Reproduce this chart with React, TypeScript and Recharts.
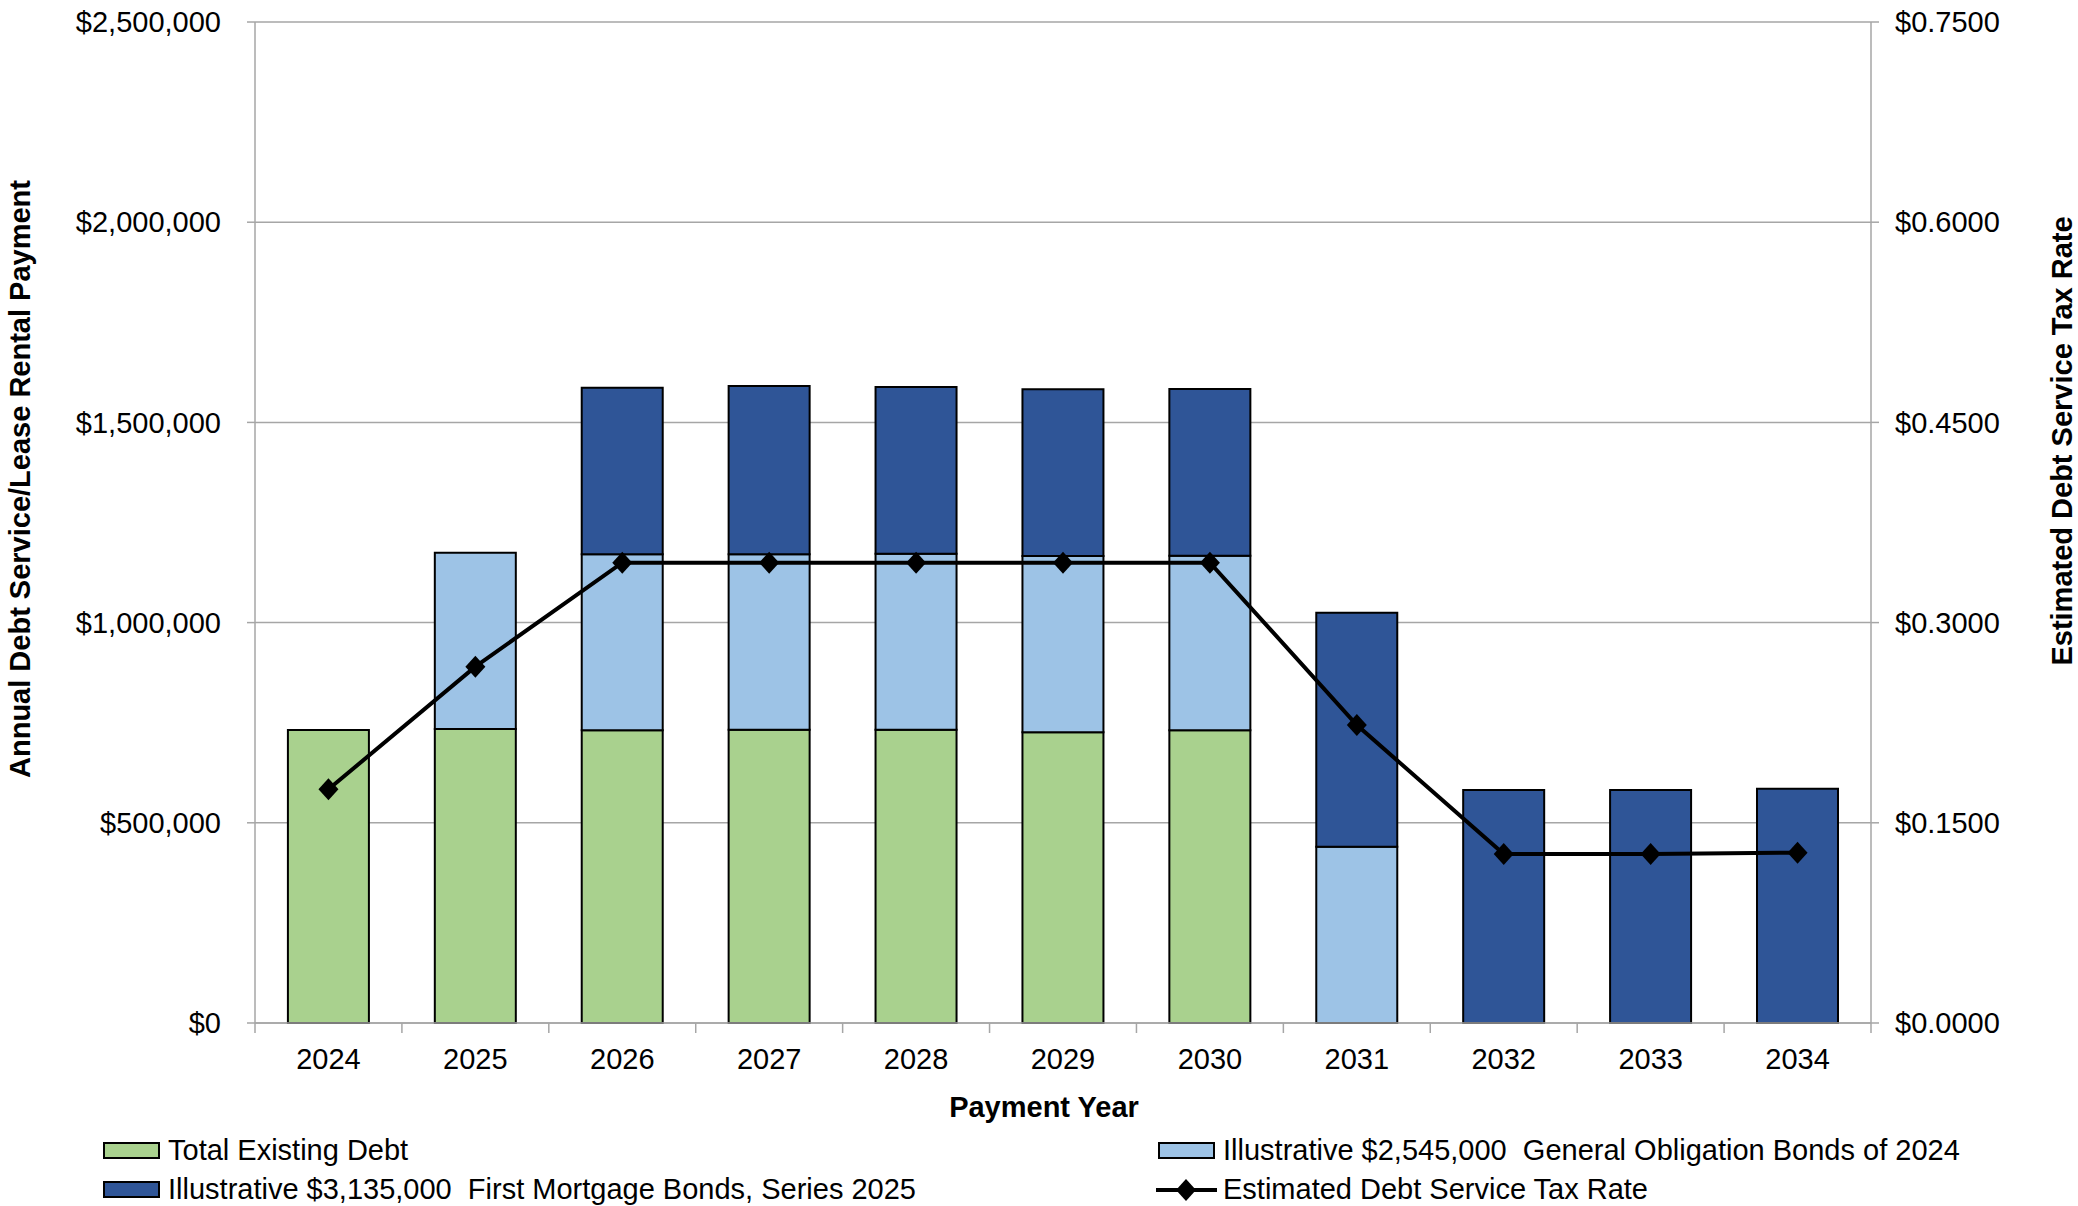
import React from 'react'
import {
  ComposedChart, Bar, Line, XAxis, YAxis, CartesianGrid,
} from 'recharts'

// ── Data ──────────────────────────────────────────────────────────────────────
const years = ['2024', '2025', '2026', '2027', '2028', '2029', '2030', '2031', '2032', '2033', '2034']
const existingDebt = [732000, 734000, 731000, 732500, 732500, 726000, 731000, 0, 0, 0, 0]
const goBonds = [0, 440600, 439500, 438500, 439500, 440300, 436100, 440300, 0, 0, 0]
const fmBonds = [0, 0, 416200, 420000, 416400, 416300, 416300, 584400, 581900, 581900, 585200]
const taxRate = [0.1751, 0.267, 0.3449, 0.3449, 0.3449, 0.3449, 0.3449, 0.2233, 0.1266, 0.1266, 0.1276]

const leftTicks = [0, 500000, 1000000, 1500000, 2000000, 2500000]
const rightTicks = [0, 0.15, 0.3, 0.45, 0.6, 0.75]

const data = years.map((year, i) => ({
  year,
  existing: existingDebt[i],
  go: goBonds[i],
  fmb: fmBonds[i],
  rate: taxRate[i],
}))

// ── Theme ─────────────────────────────────────────────────────────────────────
const C = {
  green: '#A9D18E',
  light: '#9DC3E6',
  navy: '#2F5597',
  grid: '#A6A6A6',
  ink: '#000000',
}
const FONT = '"Liberation Sans", Arial, sans-serif'
const FS = 29

const W = 2078
const H = 1206
const LEFT_W = 255
const RIGHT_W = 207
const PLOT_W = W - LEFT_W - RIGHT_W
const X_TICK_SIZE = 10
const X_TICK_MARGIN = 15

const money = (v: number) => '$' + v.toLocaleString('en-US')
const rateFmt = (v: number) => '$' + v.toFixed(4)

// ── Diamond marker ────────────────────────────────────────────────────────────
function Diamond(props: any) {
  const { cx, cy } = props
  if (cx == null || cy == null) return null
  return (
    <polygon
      points={`${cx},${cy - 11} ${cx + 10},${cy} ${cx},${cy + 11} ${cx - 10},${cy}`}
      fill={C.ink}
    />
  )
}

// ── X tick: label centred, tick marks at category boundaries ──────────────────
function YearTick(props: any) {
  const { x, y, payload, index } = props
  const band = PLOT_W / years.length
  const y0 = y - X_TICK_SIZE - X_TICK_MARGIN
  return (
    <g>
      <line x1={x - band / 2} x2={x - band / 2} y1={y0} y2={y0 + X_TICK_SIZE} stroke={C.grid} strokeWidth={1.5} />
      {index === years.length - 1 && (
        <line x1={x + band / 2} x2={x + band / 2} y1={y0} y2={y0 + X_TICK_SIZE} stroke={C.grid} strokeWidth={1.5} />
      )}
      <text x={x} y={y} dy="0.71em" textAnchor="middle" fontSize={FS} fontFamily={FONT} fill={C.ink}>
        {payload.value}
      </text>
    </g>
  )
}

function Swatch({ color }: { color: string }) {
  return (
    <span style={{
      display: 'inline-block', width: 53, height: 13, background: color,
      border: '2px solid #000', marginRight: 8,
    }} />
  )
}

function LineIcon() {
  return (
    <svg width={61} height={24} style={{ marginRight: 6 }}>
      <line x1={0} x2={61} y1={12} y2={12} stroke="#000" strokeWidth={4} />
      <polygon points="30,1 40,12 30,23 20,12" fill="#000" />
    </svg>
  )
}

const legendRow: React.CSSProperties = {
  position: 'absolute', display: 'flex', alignItems: 'center',
  fontSize: FS, fontFamily: FONT, whiteSpace: 'pre', lineHeight: 1, color: '#000',
}

export default function App() {
  return (
    <div style={{ position: 'absolute', left: 0, top: 0, width: W, height: H, background: '#fff', fontFamily: FONT }}>
      <ComposedChart
        width={W}
        height={H}
        data={data}
        margin={{ top: 22, right: 0, bottom: 123, left: 0 }}
        barCategoryGap="22.4%"
      >
        <CartesianGrid vertical={false} stroke={C.grid} strokeWidth={1.5} yAxisId="left" />
        <XAxis
          dataKey="year"
          height={60}
          tickSize={X_TICK_SIZE}
          tickMargin={X_TICK_MARGIN}
          tickLine={false}
          axisLine={{ stroke: C.grid, strokeWidth: 1.5 }}
          tick={<YearTick />}
          interval={0}
          label={{
            content: () => (
              <text x={1044} y={1107} textAnchor="middle" dominantBaseline="central"
                fontSize={FS} fontWeight={700} fontFamily={FONT} fill={C.ink}>
                Payment Year
              </text>
            ),
          }}
        />
        <YAxis
          yAxisId="left"
          width={LEFT_W}
          domain={[0, 2500000]}
          ticks={leftTicks}
          tickFormatter={money}
          tickSize={8}
          tickMargin={26}
          tick={{ fontSize: FS, fill: C.ink, fontFamily: FONT }}
          tickLine={{ stroke: C.grid, strokeWidth: 1.5 }}
          axisLine={{ stroke: C.grid, strokeWidth: 1.5 }}
          label={{
            content: () => (
              <text x={20} y={479} transform="rotate(-90 20 479)" textAnchor="middle" dominantBaseline="central"
                fontSize={FS} fontWeight={700} fontFamily={FONT} fill={C.ink}>
                Annual Debt Service/Lease Rental Payment
              </text>
            ),
          }}
        />
        <YAxis
          yAxisId="right"
          orientation="right"
          width={RIGHT_W}
          domain={[0, 0.75]}
          ticks={rightTicks}
          tickFormatter={rateFmt}
          tickSize={8}
          tickMargin={16}
          tick={{ fontSize: FS, fill: C.ink, fontFamily: FONT }}
          tickLine={{ stroke: C.grid, strokeWidth: 1.5 }}
          axisLine={{ stroke: C.grid, strokeWidth: 1.5 }}
          label={{
            content: () => (
              <text x={2062} y={441} transform="rotate(-90 2062 441)" textAnchor="middle" dominantBaseline="central"
                fontSize={FS} fontWeight={700} fontFamily={FONT} fill={C.ink}>
                Estimated Debt Service Tax Rate
              </text>
            ),
          }}
        />
        <Bar yAxisId="left" dataKey="existing" stackId="a" fill={C.green} stroke={C.ink} strokeWidth={2} isAnimationActive={false} />
        <Bar yAxisId="left" dataKey="go" stackId="a" fill={C.light} stroke={C.ink} strokeWidth={2} isAnimationActive={false} />
        <Bar yAxisId="left" dataKey="fmb" stackId="a" fill={C.navy} stroke={C.ink} strokeWidth={2} isAnimationActive={false} />
        <Line
          yAxisId="right"
          dataKey="rate"
          stroke={C.ink}
          strokeWidth={4}
          dot={<Diamond />}
          activeDot={false}
          isAnimationActive={false}
        />
      </ComposedChart>

      <div style={{ ...legendRow, left: 103, top: 1136 }}>
        <Swatch color={C.green} />Total Existing Debt
      </div>
      <div style={{ ...legendRow, left: 1158, top: 1136 }}>
        <Swatch color={C.light} />{'Illustrative $2,545,000  General Obligation Bonds of 2024'}
      </div>
      <div style={{ ...legendRow, left: 103, top: 1175 }}>
        <Swatch color={C.navy} />{'Illustrative $3,135,000  First Mortgage Bonds, Series 2025'}
      </div>
      <div style={{ ...legendRow, left: 1156, top: 1175 }}>
        <LineIcon />Estimated Debt Service Tax Rate
      </div>
    </div>
  )
}
